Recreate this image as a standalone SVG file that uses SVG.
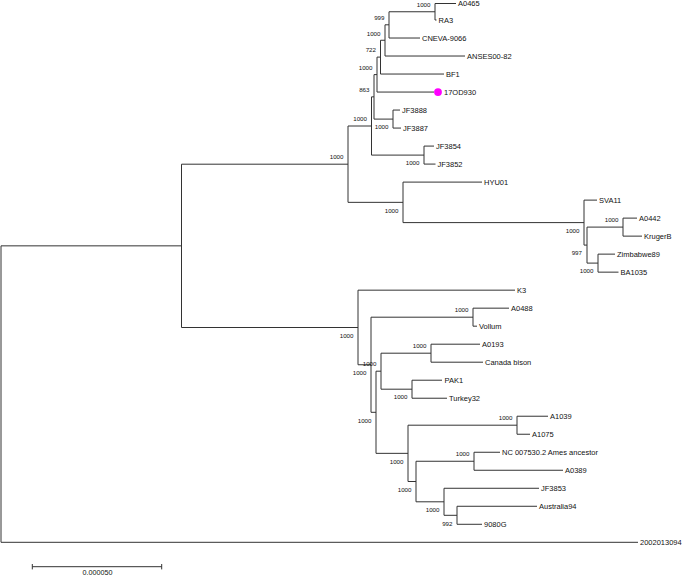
<svg xmlns="http://www.w3.org/2000/svg" width="685" height="576" viewBox="0 0 685 576">
<style>
.br{fill:none;stroke:#333;stroke-width:1}
.tx{font-family:"Liberation Sans",Arial,sans-serif;font-size:7.5px;fill:#111}
.bs{font-family:"Liberation Sans",Arial,sans-serif;font-size:6.2px;fill:#111;text-anchor:end}
.sc{font-family:"Liberation Sans",Arial,sans-serif;font-size:7.2px;fill:#111;text-anchor:middle}
</style>
<rect width="685" height="576" fill="#fff"/>
<g id="connectors" class="br">
<path d="M181.5 245.85H1V542.3H638"/>
<path d="M348 164.2H181.5V327.5H358"/>
<path d="M371.5 126H348V202.35H403"/>
<path d="M374 96.85H371.5V155.1H424"/>
<path d="M377 74.6H374V119.1H393"/>
<path d="M380.5 57.1H377V92.05H434"/>
<path d="M385 40.25H380.5V74.04H444"/>
<path d="M389 24.8H385V56.03H465"/>
<path d="M435 11.75H389V38.02H420"/>
<path d="M456 3.5H435V20.01H436.5"/>
<path d="M400 110.06H393V128.07H401"/>
<path d="M434 146.08H424V164.09H435.5"/>
<path d="M482 182.1H403V222.6H584"/>
<path d="M597 200.11H584V245.1H587"/>
<path d="M623 227.1H587V263.1H598"/>
<path d="M637 218.12H623V236.13H642"/>
<path d="M615 254.14H598V272.15H618.5"/>
<path d="M515 290.16H358V364.75H371"/>
<path d="M473 317.2H371V412.3H376"/>
<path d="M509 308.17H473V326.18H477"/>
<path d="M381 371.2H376V453.35H408"/>
<path d="M431 353.2H381V389.2H412"/>
<path d="M480 344.19H431V362.2H483"/>
<path d="M442 380.21H412V398.22H447"/>
<path d="M517 425.2H408V481.5H416"/>
<path d="M548 416.23H517V434.24H530"/>
<path d="M474 461.25H416V501.8H444"/>
<path d="M500 452.25H474V470.26H563"/>
<path d="M539 488.27H444V515.3H457"/>
<path d="M537 506.28H457V524.29H482"/>
</g>
<g id="taxa" class="tx">
<g id="t-A0465"><text x="458" y="6.2">A0465</text></g>
<g id="t-RA3"><text x="438.5" y="22.7">RA3</text></g>
<g id="t-CNEVA-9066"><text x="422" y="40.7">CNEVA-9066</text></g>
<g id="t-ANSES00-82"><text x="467" y="58.7">ANSES00-82</text></g>
<g id="t-BF1"><text x="446" y="76.7">BF1</text></g>
<g id="t-17OD930"><circle cx="438" cy="92.05" r="3.9" fill="#ff00ff"/><text x="444" y="94.8">17OD930</text></g>
<g id="t-JF3888"><text x="402" y="112.8">JF3888</text></g>
<g id="t-JF3887"><text x="403" y="130.8">JF3887</text></g>
<g id="t-JF3854"><text x="436" y="148.8">JF3854</text></g>
<g id="t-JF3852"><text x="437.5" y="166.8">JF3852</text></g>
<g id="t-HYU01"><text x="484" y="184.8">HYU01</text></g>
<g id="t-SVA11"><text x="599" y="202.8">SVA11</text></g>
<g id="t-A0442"><text x="639" y="220.8">A0442</text></g>
<g id="t-KrugerB"><text x="644" y="238.8">KrugerB</text></g>
<g id="t-Zimbabwe89"><text x="617" y="256.8">Zimbabwe89</text></g>
<g id="t-BA1035"><text x="620.5" y="274.8">BA1035</text></g>
<g id="t-K3"><text x="517" y="292.9">K3</text></g>
<g id="t-A0488"><text x="511" y="310.9">A0488</text></g>
<g id="t-Vollum"><text x="479" y="328.9">Vollum</text></g>
<g id="t-A0193"><text x="482" y="346.9">A0193</text></g>
<g id="t-Canada-bison"><text x="485" y="364.9">Canada bison</text></g>
<g id="t-PAK1"><text x="444.5" y="382.9">PAK1</text></g>
<g id="t-Turkey32"><text x="449" y="400.9">Turkey32</text></g>
<g id="t-A1039"><text x="550" y="418.9">A1039</text></g>
<g id="t-A1075"><text x="532" y="436.9">A1075</text></g>
<g id="t-NC007530"><text x="502" y="454.9">NC 007530.2 Ames ancestor</text></g>
<g id="t-A0389"><text x="565" y="473">A0389</text></g>
<g id="t-JF3853"><text x="541" y="491">JF3853</text></g>
<g id="t-Australia94"><text x="539" y="509">Australia94</text></g>
<g id="t-9080G"><text x="484" y="527">9080G</text></g>
<g id="t-2002013094"><text x="640" y="545">2002013094</text></g>
</g>
<g id="support" class="bs">
<g id="n1"><text x="430.5" y="7.2">1000</text></g>
<g id="n2"><text x="384.5" y="20">999</text></g>
<g id="n3"><text x="380.5" y="35.5">1000</text></g>
<g id="n4"><text x="376" y="52.3">722</text></g>
<g id="n5"><text x="372.5" y="69.8">1000</text></g>
<g id="n6"><text x="369.5" y="92.1">863</text></g>
<g id="n7"><text x="367" y="121.2">1000</text></g>
<g id="n8"><text x="388.5" y="129.2">1000</text></g>
<g id="n9"><text x="419.5" y="165.2">1000</text></g>
<g id="n10"><text x="343.5" y="159.4">1000</text></g>
<g id="n11"><text x="398.5" y="212.6">1000</text></g>
<g id="n12"><text x="579.5" y="232.8">1000</text></g>
<g id="n13"><text x="582" y="254.8">997</text></g>
<g id="n14"><text x="618.5" y="222.3">1000</text></g>
<g id="n15"><text x="593.5" y="273.3">1000</text></g>
<g id="n16"><text x="353.5" y="337.7">1000</text></g>
<g id="n17"><text x="468.5" y="312.4">1000</text></g>
<g id="n18"><text x="366.5" y="375">1000</text></g>
<g id="n19"><text x="376.5" y="366.4">1000</text></g>
<g id="n20"><text x="426.5" y="348.4">1000</text></g>
<g id="n21"><text x="407.5" y="399.4">1000</text></g>
<g id="n22"><text x="371.5" y="422.5">1000</text></g>
<g id="n23"><text x="403.5" y="463.5">1000</text></g>
<g id="n24"><text x="512.5" y="420.4">1000</text></g>
<g id="n25"><text x="411.5" y="491.7">1000</text></g>
<g id="n26"><text x="469.5" y="456.4">1000</text></g>
<g id="n27"><text x="439.5" y="512">1000</text></g>
<g id="n28"><text x="452.5" y="525.5">992</text></g>
</g>
<g id="scale-bar">
<path class="br" d="M32.3 566.7H161.7M32.3 564V569.4M161.7 564V569.4"/>
<text class="sc" x="97.5" y="575">0.000050</text>
</g>
</svg>
